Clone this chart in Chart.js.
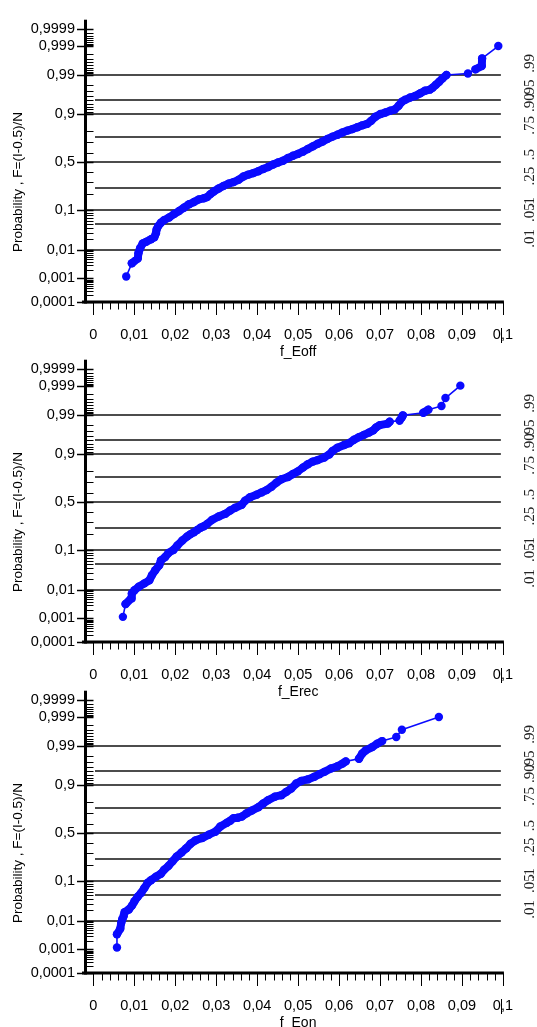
<!DOCTYPE html>
<html><head><meta charset="utf-8">
<script src="https://cdn.jsdelivr.net/npm/chart.js@4.4.1/dist/chart.umd.min.js"></script>
<style>
html,body{margin:0;padding:0;background:#fff;width:537px;height:1027px;overflow:hidden;position:relative;}
canvas{position:absolute;left:0;}
</style></head><body>
<canvas id="c1" width="537" height="361" style="top:0px"></canvas>
<canvas id="c2" width="537" height="361" style="top:340px"></canvas>
<canvas id="c3" width="537" height="361" style="top:671px"></canvas>
<script>
// ---- data: sorted values (x) and their normal scores z = probit(F), F=(I-0.5)/N ----
const eoffX = [0.00802,0.00939,0.01084,0.0110,0.01141,0.01205,0.01286,0.01407,0.01487,0.01528,
  0.01544,0.01584,0.01649,0.01729,0.0185,0.01971,0.02092,0.02213,0.02334,0.02455,
  0.02576,0.02696,0.02777,0.02858,0.02938,0.03059,0.0318,0.03301,0.03422,0.03543,
  0.03664,0.03785,0.03906,0.04027,0.04147,0.04268,0.04389,0.0451,0.04631,0.04752,
  0.04873,0.04994,0.05115,0.05236,0.05357,0.05478,0.05598,0.05719,0.0584,0.05961,
  0.06082,0.06203,0.06324,0.06445,0.06566,0.06687,0.06783,0.06888,0.07009,0.0713,
  0.07251,0.07356,0.07453,0.07533,0.07614,0.07735,0.07856,0.07977,0.08097,0.08218,
  0.08283,0.08364,0.08444,0.08525,0.08621,0.09146,0.09331,0.09484,0.09492,0.09887];
const eoffZ = [-3.04,-2.69,-2.56,-2.42,-2.29,-2.16,-2.12,-2.05,-2.00,-1.89,
  -1.79,-1.70,-1.61,-1.54,-1.47,-1.38,-1.30,-1.21,-1.12,-1.06,
  -0.99,-0.96,-0.93,-0.85,-0.78,-0.70,-0.63,-0.57,-0.53,-0.47,
  -0.38,-0.33,-0.29,-0.24,-0.18,-0.13,-0.06,-0.01,0.04,0.11,
  0.17,0.22,0.28,0.35,0.42,0.49,0.55,0.62,0.68,0.73,
  0.79,0.84,0.88,0.93,0.98,1.02,1.10,1.21,1.28,1.32,
  1.37,1.40,1.50,1.61,1.66,1.72,1.76,1.83,1.90,1.93,
  1.98,2.06,2.14,2.23,2.32,2.36,2.47,2.56,2.76,3.09];

const erecX = [0.00721,0.00786,0.00923,0.00939,0.01004,0.01108,0.01245,0.01366,0.01431,0.01511,
  0.01608,0.01649,0.01753,0.01834,0.01955,0.02052,0.02172,0.02293,0.02374,0.02455,
  0.02535,0.02616,0.02697,0.02777,0.02898,0.03059,0.03221,0.03341,0.03462,0.03623,
  0.03704,0.03825,0.03986,0.04107,0.04228,0.04349,0.0447,0.04591,0.04752,0.04873,
  0.04994,0.05115,0.05236,0.05357,0.05478,0.05639,0.0576,0.0584,0.05961,0.06123,
  0.06244,0.06364,0.06485,0.06606,0.06727,0.06832,0.06904,0.06993,0.07187,0.07235,
  0.07477,0.07533,0.07557,0.08057,0.08178,0.085,0.08597,0.0896];
const erecZ = [-3.05,-2.71,-2.56,-2.43,-2.34,-2.25,-2.16,-2.08,-1.94,-1.81,
  -1.68,-1.55,-1.46,-1.35,-1.27,-1.15,-1.02,-0.91,-0.85,-0.80,
  -0.74,-0.68,-0.64,-0.58,-0.47,-0.38,-0.31,-0.22,-0.15,-0.07,
  0.04,0.13,0.20,0.26,0.32,0.41,0.52,0.61,0.67,0.75,
  0.82,0.92,1.01,1.08,1.12,1.19,1.27,1.36,1.45,1.52,
  1.57,1.66,1.73,1.79,1.85,1.91,1.99,2.05,2.09,2.14,
  2.17,2.26,2.31,2.38,2.46,2.56,2.77,3.10];

const eonX = [0.00576,0.00576,0.00657,0.00681,0.00705,0.00738,0.00762,0.00867,0.00947,0.01004,
  0.01084,0.01165,0.01245,0.01326,0.01407,0.01528,0.01649,0.01729,0.01834,0.01931,
  0.02036,0.02156,0.02269,0.02374,0.02495,0.02656,0.02817,0.02979,0.031,0.03261,
  0.03341,0.03422,0.03527,0.03623,0.03744,0.03865,0.04027,0.04147,0.04268,0.0443,
  0.04591,0.04712,0.04833,0.04954,0.05074,0.05236,0.05397,0.05518,0.05639,0.058,
  0.05961,0.06082,0.06163,0.06485,0.06566,0.06646,0.06808,0.06929,0.0705,0.07396,
  0.07533,0.08436];
const eonZ = [-3.04,-2.69,-2.54,-2.38,-2.29,-2.21,-2.10,-2.03,-1.92,-1.81,
  -1.69,-1.59,-1.46,-1.32,-1.25,-1.16,-1.08,-0.97,-0.87,-0.75,
  -0.62,-0.51,-0.40,-0.28,-0.19,-0.13,-0.04,0.04,0.18,0.28,
  0.33,0.40,0.41,0.44,0.53,0.60,0.69,0.79,0.88,0.97,
  1.01,1.10,1.19,1.32,1.39,1.43,1.50,1.57,1.63,1.72,
  1.78,1.85,1.91,1.98,2.12,2.20,2.29,2.38,2.45,2.56,
  2.75,3.09];

// ---- axes ----
const xTickValues = [0,0.01,0.02,0.03,0.04,0.05,0.06,0.07,0.08,0.09,0.1];
const xTickLabels = ['0','0,01','0,02','0,03','0,04','0,05','0,06','0,07','0,08','0,09','0,1'];
const yMajorProbs = [0.0001,0.001,0.01,0.1,0.5,0.9,0.99,0.999,0.9998];
const yTickLabels = ['0,0001','0,001','0,01','0,1','0,5','0,9','0,99','0,999','0,9999'];
const yMinorProbs = [0.0002,0.0003,0.0004,0.0005,0.0006,0.0007,0.0008,0.0009,
  0.002,0.003,0.004,0.005,0.006,0.007,0.008,0.009,
  0.02,0.03,0.04,0.05,0.06,0.07,0.08,0.09,
  0.2,0.3,0.4,0.6,0.7,0.8,
  0.91,0.92,0.93,0.94,0.95,0.96,0.97,0.98,
  0.991,0.992,0.993,0.994,0.995,0.996,0.997,0.998,
  0.9991,0.9992,0.9993,0.9994,0.9995,0.9996,0.9997];
const refProbs = [0.01,0.05,0.1,0.25,0.5,0.75,0.9,0.95,0.99];
const refLabels = ['.01','.05','.1','.25','.5','.75','.90','.95','.99'];
const yTitle = 'Probability , F=(I-0.5)/N';
const panels = [
  {id:'c1', xs:eoffX, zs:eoffZ, title:'f_Eoff'},
  {id:'c2', xs:erecX, zs:erecZ, title:'f_Erec'},
  {id:'c3', xs:eonX,  zs:eonZ,  title:'f_Eon'}
];

function probit(p){
  const a=[-3.969683028665376e+01,2.209460984245205e+02,-2.759285104469687e+02,1.383577518672690e+02,-3.066479806614716e+01,2.506628277459239e+00];
  const b=[-5.447609879822406e+01,1.615858368580409e+02,-1.556989798598866e+02,6.680131188771972e+01,-1.328068155288572e+01];
  const c=[-7.784894002430293e-03,-3.223964580411365e-01,-2.400758277161838e+00,-2.549732539343734e+00,4.374664141464968e+00,2.938163982698783e+00];
  const d=[7.784695709041462e-03,3.224671290700398e-01,2.445134137142996e+00,3.754408661907416e+00];
  const pl=0.02425, ph=1-pl; let q,r;
  if(p<pl){q=Math.sqrt(-2*Math.log(p));return (((((c[0]*q+c[1])*q+c[2])*q+c[3])*q+c[4])*q+c[5])/((((d[0]*q+d[1])*q+d[2])*q+d[3])*q+1);}
  if(p<=ph){q=p-0.5;r=q*q;return (((((a[0]*r+a[1])*r+a[2])*r+a[3])*r+a[4])*r+a[5])*q/(((((b[0]*r+b[1])*r+b[2])*r+b[3])*r+b[4])*r+1);}
  q=Math.sqrt(-2*Math.log(1-p));return -(((((c[0]*q+c[1])*q+c[2])*q+c[3])*q+c[4])*q+c[5])/((((d[0]*q+d[1])*q+d[2])*q+d[3])*q+1);
}

const SANS = '"Liberation Sans", Arial, sans-serif';
const SERIF = '"Liberation Serif", "Times New Roman", serif';
const BLUE = '#0a0aff';

const probAxes = {
  id:'probAxes',
  beforeDatasetsDraw(chart){
    const {ctx, chartArea:ca, scales:{x,y}} = chart;
    ctx.save();
    // reference lines
    ctx.strokeStyle = '#111'; ctx.lineWidth = 1.4;
    refProbs.forEach(p=>{
      const py = Math.round(y.getPixelForValue(probit(p)));
      const x0 = yMajorProbs.includes(p) ? ca.left : ca.left + 9;
      ctx.beginPath(); ctx.moveTo(x0, py); ctx.lineTo(x.getPixelForValue(0.0995), py); ctx.stroke();
    });
    // y minor ticks (inside)
    ctx.strokeStyle = '#000'; ctx.lineWidth = 1;
    yMinorProbs.forEach(p=>{
      const py = Math.round(y.getPixelForValue(probit(p)))+0.5;
      ctx.beginPath(); ctx.moveTo(ca.left, py); ctx.lineTo(ca.left+7.5, py); ctx.stroke();
    });
    // y major ticks
    ctx.lineWidth = 1.5;
    yMajorProbs.forEach(p=>{
      const py = Math.round(y.getPixelForValue(probit(p)))+0.5;
      ctx.beginPath(); ctx.moveTo(ca.left-9, py); ctx.lineTo(ca.left+7.5, py); ctx.stroke();
    });
    // x ticks
    ctx.lineWidth = 1;
    for(let k=0;k<=50;k++){
      const v = k*0.002;
      const px = Math.round(x.getPixelForValue(v))+0.5;
      const major = (k%5===0);
      ctx.beginPath(); ctx.moveTo(px, ca.bottom); ctx.lineTo(px, ca.bottom + (major?13:7.5)); ctx.stroke();
    }
    // axis lines
    ctx.fillStyle = '#000';
    ctx.fillRect(ca.left-2, ca.top, 3, ca.bottom - ca.top + 1.5);
    ctx.fillRect(ca.left-4, ca.bottom-1.5, x.getPixelForValue(0.1) - ca.left + 5, 3);
    ctx.restore();
  },
  afterDraw(chart, args, opts){
    const {ctx, chartArea:ca, scales:{x,y}} = chart;
    ctx.save();
    // bar crossing the last x label
    const pxl = Math.round(x.getPixelForValue(0.1))-1.5;
    ctx.strokeStyle='#000'; ctx.lineWidth=1;
    ctx.beginPath(); ctx.moveTo(pxl, ca.bottom+26); ctx.lineTo(pxl, ca.bottom+41); ctx.stroke();
    // right-hand labels of reference lines
    ctx.fillStyle = '#222';
    ctx.font = '15px ' + SERIF;
    ctx.textAlign = 'left'; ctx.textBaseline = 'middle';
    refProbs.forEach((p,i)=>{
      const py = y.getPixelForValue(probit(p)) - 2;
      ctx.save(); ctx.translate(530, py); ctx.rotate(-Math.PI/2);
      ctx.fillText(refLabels[i], 0, 0); ctx.restore();
    });
    // axis titles
    ctx.fillStyle = '#000';
    ctx.font = '13.5px ' + SANS;
    ctx.textAlign = 'center'; ctx.textBaseline = 'middle';
    ctx.save(); ctx.translate(18, 182); ctx.rotate(-Math.PI/2);
    ctx.fillText(yTitle, 0, 0); ctx.restore();
    ctx.font = '14px ' + SANS;
    ctx.fillText(opts.xTitle, x.getPixelForValue(0.05), 352.5);
    ctx.restore();
  }
};

// segments between closely packed points merge into a continuous band
const segWidth = c => Math.hypot(c.p1.x - c.p0.x, c.p1.y - c.p0.y) < 8.5 ? 8 : 1.6;

panels.forEach(pn=>{
  const pts = pn.xs.map((v,i)=>({x:v, y:pn.zs[i]}));
  new Chart(document.getElementById(pn.id), {
    type:'scatter',
    data:{datasets:[{data:pts, showLine:true, borderColor:BLUE, backgroundColor:BLUE,
      borderWidth:1.6, borderCapStyle:'round', borderJoinStyle:'round',
      segment:{borderWidth:segWidth},
      pointRadius:4.2, pointBorderWidth:0, pointBackgroundColor:BLUE, clip:false}]},
    options:{
      responsive:false, animation:false, devicePixelRatio:1,
      layout:{padding:{left:0, right:29.5, top:18, bottom:0}},
      plugins:{legend:{display:false}, tooltip:{enabled:false}, probAxes:{xTitle:pn.title}},
      scales:{
        x:{type:'linear', min:-0.0018, max:0.1,
          grid:{display:false, drawTicks:false}, border:{display:false},
          afterFit:s=>{s.height = 59;},
          afterBuildTicks:s=>{s.ticks = xTickValues.map(v=>({value:v}));},
          ticks:{autoSkip:false, maxRotation:0, padding:24, color:'#000',
            font:{family:SANS, size:14.5},
            callback:(v,i)=>xTickLabels[i]}
        },
        y:{type:'linear', min:probit(0.0001), max:3.79,
          grid:{display:false, drawTicks:false}, border:{display:false},
          afterFit:s=>{s.width = 86;},
          afterBuildTicks:s=>{s.ticks = yMajorProbs.map(p=>({value:probit(p)}));},
          ticks:{autoSkip:false, padding:11, color:'#000',
            font:{family:SANS, size:14.5},
            callback:(v,i)=>yTickLabels[i]}
        }
      }
    },
    plugins:[probAxes]
  });
});
</script>
</body></html>
